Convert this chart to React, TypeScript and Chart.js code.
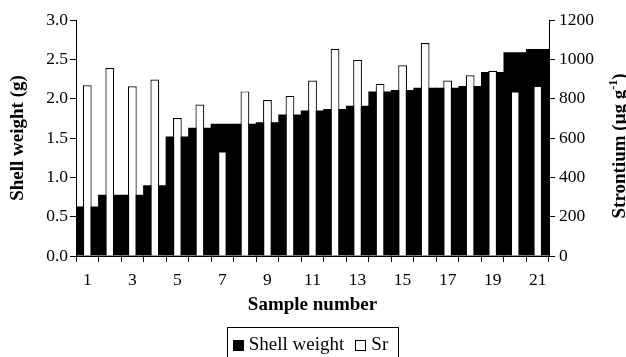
import React, { useEffect, useRef } from 'react';
import { Chart, registerables } from 'chart.js';

Chart.register(...registerables);

const categories = ['1', '2', '3', '4', '5', '6', '7', '8', '9', '10', '11', '12', '13', '14', '15', '16', '17', '18', '19', '20', '21'];
const shellWeight = [0.63, 0.78, 0.78, 0.9, 1.52, 1.63, 1.68, 1.68, 1.7, 1.8, 1.85, 1.87, 1.91, 2.09, 2.11, 2.14, 2.14, 2.16, 2.34, 2.59, 2.63];
const strontium = [868, 956, 863, 897, 702, 770, 532, 837, 793, 814, 892, 1054, 997, 876, 970, 1083, 892, 919, 942, 837, 866];

const leftTitle = 'Shell weight (g)';
const rightTitleMain = 'Strontium (μg g';
const rightTitleSup = '-1';
const rightTitleEnd = ')';
const xTitle = 'Sample number';
const seriesNames = ['Shell weight', 'Sr'];

const FONT = '"Liberation Serif", "Times New Roman", Times, serif';

export default function App() {
  const ref = useRef<HTMLCanvasElement>(null);

  useEffect(() => {
    const canvas = ref.current;
    if (!canvas) return;

    const rightTitlePlugin = {
      id: 'rightTitle',
      afterDraw(chart: any) {
        const c = chart.ctx;
        c.save();
        const big = `bold 19px ${FONT}`;
        const small = `bold 12px ${FONT}`;
        c.font = big;
        const w1 = c.measureText(rightTitleMain).width;
        const w3 = c.measureText(rightTitleEnd).width;
        c.font = small;
        const w2 = c.measureText(rightTitleSup).width;
        const total = w1 + w2 + w3;
        const baseX = 625;
        const cy = 146;
        c.translate(baseX, cy);
        c.rotate(-Math.PI / 2);
        c.fillStyle = '#000';
        c.textBaseline = 'alphabetic';
        c.textAlign = 'left';
        let x = -total / 2;
        c.font = big;
        c.fillText(rightTitleMain, x, 0);
        x += w1;
        c.font = small;
        c.fillText(rightTitleSup, x, -8);
        x += w2;
        c.font = big;
        c.fillText(rightTitleEnd, x, 0);
        c.restore();
      },
    };

    const legendPlugin = {
      id: 'boxLegend',
      afterDraw(chart: any) {
        const c = chart.ctx;
        c.save();
        c.font = `19px ${FONT}`;
        const ds = chart.data.datasets;
        const box = 11;
        const gapBoxText = 5;
        const gapItems = 11;
        const widths = ds.map((d: any) => box + gapBoxText + c.measureText(d.label).width);
        const total = widths.reduce((a: number, b: number) => a + b, 0) + gapItems * (ds.length - 1);
        const cx = (chart.chartArea.left + chart.chartArea.right) / 2 - 2;
        let x = cx - total / 2;
        const cy = chart.height - 12;
        c.strokeStyle = '#000';
        c.lineWidth = 1;
        c.strokeRect(Math.round(x - 6) + 0.5, chart.height - 29.5, Math.round(total + 16), 40);
        c.textBaseline = 'middle';
        c.textAlign = 'left';
        ds.forEach((d: any, i: number) => {
          const bx = Math.round(x);
          const by = Math.round(cy - box / 2);
          c.fillStyle = d.backgroundColor;
          c.fillRect(bx, by, box, box);
          c.strokeStyle = '#000';
          c.strokeRect(bx + 0.5, by + 0.5, box - 1, box - 1);
          c.fillStyle = '#000';
          c.fillText(d.label, x + box + gapBoxText, cy);
          x += widths[i] + gapItems;
        });
        c.restore();
      },
    };

    const tickFont = { family: FONT, size: 17.5 };
    const titleFont = { family: FONT, size: 19, weight: 'bold' as const };

    const chart = new Chart(canvas, {
      type: 'bar',
      data: {
        labels: categories,
        datasets: [
          {
            label: seriesNames[0],
            data: shellWeight,
            backgroundColor: '#000000',
            borderWidth: 0,
            yAxisID: 'y',
            grouped: false,
            barPercentage: 1.04,
            categoryPercentage: 1,
            order: 1,
          } as any,
          {
            label: seriesNames[1],
            data: strontium,
            backgroundColor: '#ffffff',
            borderColor: '#000000',
            borderWidth: 1.2,
            yAxisID: 'y1',
            grouped: false,
            barPercentage: 0.39,
            categoryPercentage: 1,
            order: 0,
          } as any,
        ],
      },
      options: {
        animation: false,
        responsive: false,
        devicePixelRatio: 1,
        layout: { padding: { top: 20, left: 0, right: 0, bottom: 26 } },
        plugins: {
          legend: { display: false },
          tooltip: { enabled: false },
        },
        scales: {
          x: {
            offset: true,
            grid: { offset: true, drawOnChartArea: false, drawTicks: true, tickLength: 6, color: '#000', lineWidth: 1 },
            border: { display: true, color: '#000', width: 1 },
            ticks: {
              autoSkip: false,
              maxRotation: 0,
              minRotation: 0,
              padding: 7.5,
              color: '#000',
              font: tickFont,
              callback: (_v: any, i: number) => (i % 2 === 0 ? categories[i] : ''),
            },
            title: { display: true, text: xTitle, color: '#000', font: titleFont, padding: { top: 4, bottom: 15 } },
            afterFit: (s: any) => { s.height = 75; },
          },
          y: {
            position: 'left',
            min: 0,
            max: 3,
            grid: { drawOnChartArea: false, drawTicks: true, tickLength: 6, color: '#000', lineWidth: 1 },
            border: { display: true, color: '#000', width: 1 },
            ticks: {
              stepSize: 0.5,
              padding: 2,
              color: '#000',
              font: tickFont,
              callback: (v: any) => Number(v).toFixed(1),
            },
            title: { display: true, text: leftTitle, color: '#000', font: titleFont, padding: { top: 7, bottom: 0 } },
            afterFit: (s: any) => { s.width = 76; },
          },
          y1: {
            position: 'right',
            min: 0,
            max: 1200,
            grid: { drawOnChartArea: false, drawTicks: true, tickLength: 6, color: '#000', lineWidth: 1 },
            border: { display: true, color: '#000', width: 1 },
            ticks: {
              stepSize: 200,
              padding: 4,
              color: '#000',
              font: tickFont,
              callback: (v: any) => String(v),
            },
            title: { display: false },
            afterFit: (s: any) => { s.width = 77; },
          },
        },
      } as any,
      plugins: [rightTitlePlugin, legendPlugin],
    });

    return () => chart.destroy();
  }, []);

  return (
    <div style={{ position: 'fixed', left: 0, top: 0, width: 626, height: 357, background: '#fff' }}>
      <canvas ref={ref} width={626} height={357} style={{ display: 'block', width: 626, height: 357 }} />
    </div>
  );
}
